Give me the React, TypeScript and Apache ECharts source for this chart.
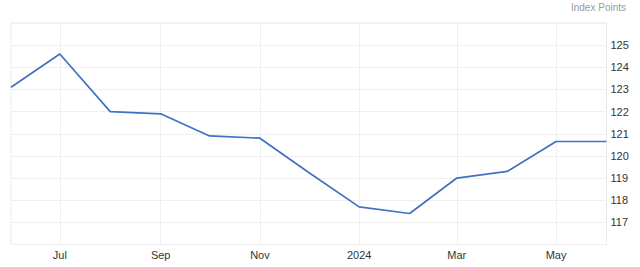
import React, { useEffect, useRef } from "react";
import * as echarts from "echarts";

const months: string[] = [
  "2023-06-01", "2023-07-01", "2023-08-01", "2023-09-01", "2023-10-01", "2023-11-01",
  "2023-12-01", "2024-01-01", "2024-02-01", "2024-03-01", "2024-04-01", "2024-05-01", "2024-06-01",
];
const values: number[] = [123.1, 124.6, 122.0, 121.9, 120.9, 120.8, 119.25, 117.7, 117.4, 119.0, 119.3, 120.65, 120.65];
const xTickDates: string[] = ["2023-07-01", "2023-09-01", "2023-11-01", "2024-01-01", "2024-03-01", "2024-05-01"];
const monthNames: string[] = ["Jan", "Feb", "Mar", "Apr", "May", "Jun", "Jul", "Aug", "Sep", "Oct", "Nov", "Dec"];
const unitLabel = "Index Points";

const ts = (s: string) => {
  const [y, m, d] = s.split("-").map(Number);
  return Date.UTC(y, m - 1, d);
};

export default function App() {
  const ref = useRef<HTMLDivElement>(null);
  useEffect(() => {
    if (!ref.current) return;
    const chart = echarts.init(ref.current, undefined, { renderer: "svg" });
    const tickVals = xTickDates.map(ts);
    chart.setOption({
      animation: false,
      textStyle: { fontFamily: "Liberation Sans, Arial, sans-serif" },
      grid: {
        left: 11,
        right: 33.5,
        top: 23,
        bottom: 22.5,
        show: true,
        borderColor: "#ebebeb",
        borderWidth: 1,
      },
      graphic: [
        {
          type: "text",
          right: 14,
          top: 2,
          style: { text: unitLabel, fill: "#9a9a9a", font: "10px Liberation Sans, Arial, sans-serif" },
        },
      ],
      xAxis: {
        type: "value",
        min: ts(months[0]),
        max: ts(months[months.length - 1]),
        axisLine: { show: false },
        axisTick: { show: false, customValues: tickVals },
        splitLine: { show: true, lineStyle: { color: "#efefef", width: 1 } },
        axisLabel: {
          customValues: tickVals,
          color: "#333",
          fontSize: 11,
          margin: 5,
          hideOverlap: false,
          formatter: (v: number) => {
            const d = new Date(v);
            const m = d.getUTCMonth();
            return m === 0 ? String(d.getUTCFullYear()) : monthNames[m];
          },
        },
      },
      yAxis: {
        type: "value",
        position: "right",
        min: 116,
        max: 126,
        interval: 1,
        axisLine: { show: false },
        axisTick: { show: false },
        splitLine: { show: true, lineStyle: { color: "#efefef", width: 1 } },
        axisLabel: {
          color: "#333",
          fontSize: 11,
          margin: 4,
          formatter: (v: number) => (v <= 116 || v >= 126 ? "" : String(v)),
        },
      },
      series: [
        {
          type: "line",
          data: months.map((m, i) => [ts(m), values[i]]),
          showSymbol: false,
          symbol: "none",
          lineStyle: { color: "#3f72c2", width: 1.7 },
        },
      ],
    });
    return () => chart.dispose();
  }, []);
  return <div ref={ref} style={{ width: 640, height: 267, position: "absolute", left: 0, top: 0 }} />;
}
